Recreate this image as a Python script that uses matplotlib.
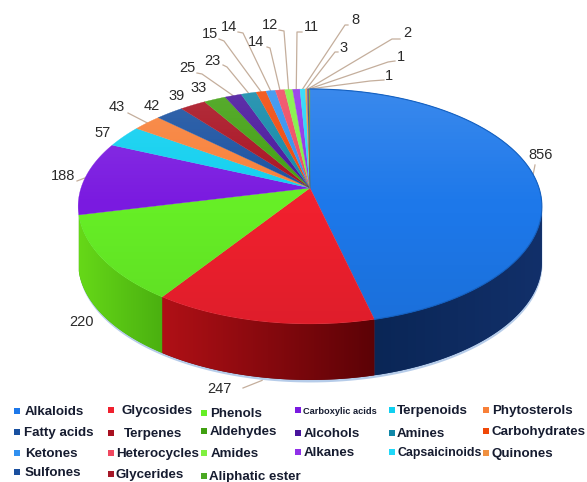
import numpy as np
import matplotlib
matplotlib.use("Agg")
import matplotlib.pyplot as plt
from matplotlib.colors import to_rgb
from matplotlib.patches import Polygon

categories = ["Alkaloids", "Glycosides", "Phenols", "Carboxylic acids", "Terpenoids", "Phytosterols",
              "Fatty acids", "Terpenes", "Aldehydes", "Alcohols", "Amines", "Carbohydrates",
              "Ketones", "Heterocycles", "Amides", "Alkanes", "Capsaicinoids", "Quinones",
              "Sulfones", "Glycerides", "Aliphatic ester"]
values = [856, 247, 220, 188, 57, 43, 42, 39, 33, 25, 23, 15, 14, 14, 12, 11, 8, 3, 2, 1, 1]
colors = ["#1d78ea", "#f0202e", "#66ee26", "#7a1ae0", "#10d0f0", "#f88038",
          "#1850a0", "#a81020", "#40a010", "#48149c", "#1088a8", "#f04808",
          "#3090f0", "#f04860", "#80f040", "#9030e8", "#20d8f8", "#f09040",
          "#1a4f9e", "#a51828", "#4aa822"]
# wall shading: colour at the screen-left end, colour at the screen-right end
wall_colors = {0: ("#0a2656", "#12306a"), 1: ("#b01016", "#5c0206"), 2: ("#66d818", "#4ab010")}

W, H = 587, 482
apex_x, apex_y, a, b, k, depth = 310, 188, 229, 114.6, 0.157, 56


def project(t):
    """Perspective view of a unit disc; t runs clockwise from the back of the pie."""
    X, Y = np.sin(t), -np.cos(t)
    w = 1 - k*Y
    return apex_x + a*X/w, apex_y + b*Y/w


fig = plt.figure(figsize=(W/100, H/100), dpi=100, facecolor="white")
ax = fig.add_axes([0, 0, 1, 1])

edges = np.cumsum([0] + values) / sum(values) * 2*np.pi
sil0 = np.arccos(-k)
sil1 = edges[3]

# soft halo under the wall
tt = np.linspace(sil0, sil1, 300)
hx, hy = project(tt)
ax.fill_between(hx, hy, hy + depth + 2.0, color="#5f8fd0", alpha=0.45, lw=0, zorder=0.5)

for i, (v0, v1) in enumerate(zip(edges[:-1], edges[1:])):
    a0, a1 = max(v0, sil0), min(v1, sil1)
    if a1 > a0 and i in wall_colors:
        left, right = wall_colors[i]
        x, y = project(np.linspace(a0, a1, 160))
        outline = np.c_[np.r_[x, x[::-1]], np.r_[y, y[::-1] + depth]]
        ax.add_patch(Polygon(outline, closed=True, fc=right, lw=0, zorder=1))
        grad = np.linspace(to_rgb(left), to_rgb(right), 128)[None, :, :]
        im = ax.imshow(grad, extent=(x.min(), x.max(), y.max() + depth, y.min()),
                       aspect="auto", zorder=1.1, interpolation="bilinear")
        im.set_clip_path(Polygon(outline, transform=ax.transData))

for v0, v1, c in zip(edges[:-1], edges[1:], colors):
    n = max(3, int((v1 - v0) * 80))
    x, y = project(np.linspace(v0, v1, n))
    ax.fill(np.r_[apex_x, x], np.r_[apex_y, y], color=c, lw=0.2, zorder=2)

# light from the back of the pie, darker at the front
ft = np.linspace(0, 2*np.pi, 400)
fx, fy = project(ft)
shade = np.zeros((200, 2, 4))
ramp = np.linspace(0, 1, 200)
shade[..., :3] = np.where(ramp[:, None, None] < 0.5, 1.0, 0.0)
shade[..., 3] = (np.where(ramp < 0.5, (0.5 - ramp) * 0.26, (ramp - 0.5) * 0.14))[:, None]
img = ax.imshow(shade, extent=(fx.min(), fx.max(), fy.max(), fy.min()), aspect="auto", zorder=3,
                interpolation="bilinear")
img.set_clip_path(Polygon(np.c_[fx, fy], transform=ax.transData))

# darker rim along the largest slice
rx_, ry_ = project(np.linspace(edges[0], edges[1], 200))
ax.plot(rx_, ry_, color="#1460c0", lw=0.8, zorder=3.2)

ax.set_xlim(0, W)
ax.set_ylim(H, 0)
ax.axis("off")

label_pos = [(541, 155), (219, 389), (82, 322), (63, 176), (103, 133), (117, 107),
             (152, 106), (177, 96), (199, 88), (187, 68), (212, 61), (210, 34),
             (229, 27), (256, 42), (270, 25), (311, 27), (355, 20), (344, 48),
             (407, 33), (401, 57), (389, 76)]
label_elbow = [(535, 165), (243, 388), None, (77, 181), None, (128, 113),
               None, None, None, (202, 74), (227, 67), (224, 41),
               (243, 33), (270, 48), (284, 31), (297, 32), (345, 25), (335, 52),
               (392, 39), (388, 62), (370, 81)]
label_start = [None, None, None, None, None, None, None, None, None, (197, 73), (223, 65), (219, 39),
               (238, 32), (267, 47), (279, 30), (302, 32), (348, 25), (338, 52),
               (400, 39), (395, 61), (384, 80)]
mid = (edges[:-1] + edges[1:]) / 2
for i, (v, m, lp, el, st) in enumerate(zip(values, mid, label_pos, label_elbow, label_start)):
    px, py = project(m)
    if i in (1,):
        py += depth + 3
    if el is not None:
        xs = ([st[0]] if st else []) + [el[0], px]
        ys = ([st[1]] if st else []) + [el[1], py]
        ax.plot(xs, ys, color="#c4ae9c", lw=0.9, zorder=1.5 if i >= 4 else 0.3)
    ax.text(lp[0], lp[1], str(v), fontsize=10.5, color="#2a2a2a", ha="center", va="center",
            family="Liberation Sans", zorder=4)

marker_x = [[17, 111, 204, 298, 392, 486], [17, 111, 204, 298, 392, 486],
            [17, 111, 204, 298, 392, 486], [17, 111, 204]]
text_x = [[25, 121, 210, 303, 397, 492], [24, 124, 210, 304, 397, 492],
          [25, 116, 211, 304, 397, 492], [25, 116, 209]]
row_y = [[412, 411, 414, 411, 411, 411], [433, 434, 432, 434, 434, 432],
         [454, 454, 454, 453, 453, 454], [473, 475, 477]]
font_sizes = {"Carboxylic acids": 6.7, "Capsaicinoids": 8.9}
k2 = 0
for r in range(4):
    for q in range(len(text_x[r])):
        name, c = categories[k2], colors[k2]
        k2 += 1
        y = row_y[r][q]
        ax.scatter([marker_x[r][q]], [y - 1], s=20, marker="s", color=c, lw=0, zorder=4, clip_on=False)
        ax.text(text_x[r][q], y, name, fontsize=font_sizes.get(name, 9.6), fontweight="bold", color="#161c30",
                family="Liberation Sans", ha="left", va="center", zorder=4)

fig.savefig("out.png", dpi=100)
